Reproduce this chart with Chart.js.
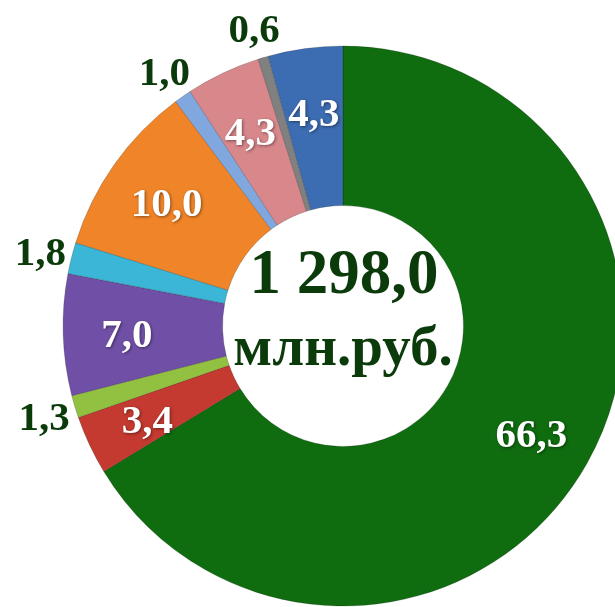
<!DOCTYPE html>
<html>
<head>
<meta charset="utf-8">
<script src="https://cdn.jsdelivr.net/npm/chart.js@4"></script>
<style>
  html, body { margin: 0; padding: 0; background: #fff; overflow: hidden; }
  #wrap { position: absolute; left: 0; top: 0; width: 686px; height: 652px; }
</style>
</head>
<body>
<div id="wrap"><canvas id="chart" width="686" height="652"></canvas></div>
<script>
/* ── DATA ───────────────────────────────────────────────────────────── */
// shares, %, clockwise from 12 o'clock
const values = [66.3, 3.4, 1.3, 7.0, 1.8, 10.0, 1.0, 4.3, 0.6, 4.3];
const labels = ['66,3', '3,4', '1,3', '7,0', '1,8', '10,0', '1,0', '4,3', '0,6', '4,3'];
const colors = ['#0f6c0f', '#c43a30', '#92c040', '#7050a6', '#3cb6d6',
                '#f08428', '#80a8de', '#d8878b', '#808080', '#3c6cb2'];
const totalText = '1 298,0';
const unitText  = 'млн.руб.';

const DARK  = '#0b3a0b';
const SERIF = '"Liberation Serif", "Times New Roman", serif';

/* ── LABEL PLUGIN ───────────────────────────────────────────────────── */
const sliceLabels = {
  id: 'sliceLabels',
  afterDatasetsDraw(chart) {
    const ctx  = chart.ctx;
    const arcs = chart.getDatasetMeta(0).data;
    ctx.save();
    ctx.textAlign = 'center';
    ctx.textBaseline = 'middle';
    ctx.font = `bold 41px ${SERIF}`;

    arcs.forEach((a, i) => {
      const mid     = (a.startAngle + a.endAngle) / 2;
      const outside = values[i] < 2;
      const r       = outside ? a.outerRadius + 32 : a.innerRadius + (a.outerRadius - a.innerRadius) * 0.6;
      const x = a.x + Math.cos(mid) * r;
      const y = a.y + Math.sin(mid) * r + 4;
      if (outside) {
        ctx.shadowColor = 'transparent';
        ctx.fillStyle = DARK;
      } else {
        ctx.shadowColor = 'rgba(0,0,0,0.45)';
        ctx.shadowBlur = 3;
        ctx.shadowOffsetX = 1;
        ctx.shadowOffsetY = 1;
        ctx.fillStyle = '#fff';
      }
      ctx.fillText(labels[i], x, y);
    });

    // centre total
    const a0 = arcs[0];
    ctx.shadowColor = 'transparent';
    ctx.fillStyle = DARK;
    ctx.textBaseline = 'alphabetic';
    ctx.font = `bold 63px ${SERIF}`;
    ctx.fillText(totalText, a0.x + 1, 293);
    ctx.font = `bold 57px ${SERIF}`;
    ctx.fillText(unitText, a0.x, 365);
    ctx.restore();
  }
};

/* ── CHART ──────────────────────────────────────────────────────────── */
new Chart(document.getElementById('chart'), {
  type: 'doughnut',
  data: {
    labels,
    datasets: [{
      data: values,
      backgroundColor: colors,
      borderColor: 'rgba(0,0,0,0.18)',
      borderWidth: 1,
    }],
  },
  options: {
    responsive: false,
    animation: false,
    radius: 280,
    cutout: 140,
    layout: { padding: 0 },
    plugins: { legend: { display: false }, tooltip: { enabled: false } },
  },
  plugins: [sliceLabels],
});
</script>
</body>
</html>
